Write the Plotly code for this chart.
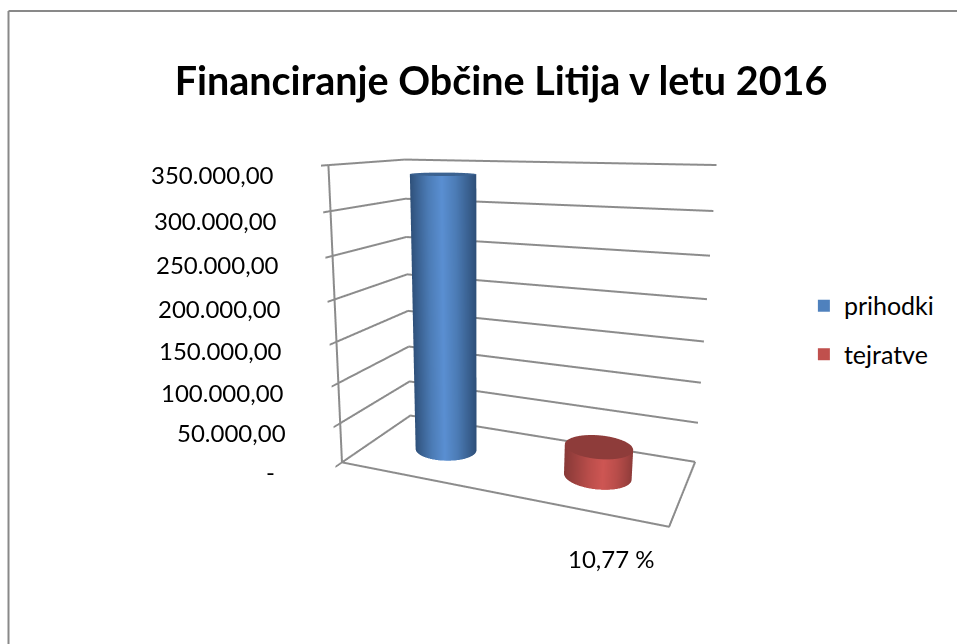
import numpy as np
import plotly.graph_objects as go

# ---------------- data ----------------
category = "10,77 %"
series_names = ["prihodki", "tejratve"]
series_values = [338000, 36400]
series_pos = [0.25, 0.75]
tick_values = [0, 50000, 100000, 150000, 200000, 250000, 300000, 350000]
tick_labels = ["-", "50.000,00", "100.000,00", "150.000,00", "200.000,00", "250.000,00", "300.000,00", "350.000,00"]
title_text = "Financiranje Občine Litija v letu 2016"

side_light = ["#5A8FD2", "#CE5653"]
side_mid = ["#4C7CB6", "#B94D4A"]
side_dark = ["#2E4F78", "#8A3A38"]
top_color = ["#3B6291", "#8E3C3A"]
legend_color = ["#4F81BD", "#C0504D"]

# ---------------- camera, fitted against the axis box of the picture ----------------
EYE = dict(x=0.78, y=-2.093, z=0.55)
CENTER = dict(x=-0.1137, y=-0.0505, z=-0.004)
UP = dict(x=0.0118, y=0.0051, z=1)
AY, AZ = 0.4416, 0.902
SCREEN_RIGHT = (0.9157, 0.4016)

# ---------------- figure ----------------
ZMAX = tick_values[-1]
RX, RY = 0.10, 0.20
fig = go.Figure()
t = np.linspace(0, 2 * np.pi, 181)
off = RX * np.cos(t) * SCREEN_RIGHT[0] + RY * AY * np.sin(t) * SCREEN_RIGHT[1]
shade = np.abs(off) / np.abs(off).max()
light = dict(ambient=1, diffuse=0, specular=0, fresnel=0, roughness=1)
for i, (name, val, cx) in enumerate(zip(series_names, series_values, series_pos)):
    X = np.vstack([cx + RX * np.cos(t)] * 2)
    Y = np.vstack([0.5 + RY * np.sin(t)] * 2)
    Z = np.vstack([np.zeros_like(t), np.full_like(t, val)])
    scale = [[0, side_light[i]], [0.4, side_mid[i]], [1, side_dark[i]]]
    fig.add_trace(go.Surface(x=X, y=Y, z=Z, surfacecolor=np.vstack([shade] * 2), cmin=0, cmax=1, colorscale=scale,
                             showscale=False, lighting=light, hoverinfo="skip", showlegend=False))
    rr = np.array([0, 1.0])
    Xc = cx + RX * np.outer(rr, np.cos(t))
    Yc = 0.5 + RY * np.outer(rr, np.sin(t))
    fig.add_trace(go.Surface(x=Xc, y=Yc, z=np.full_like(Xc, val), surfacecolor=np.zeros_like(Xc), cmin=0, cmax=1,
                             colorscale=[[0, top_color[i]], [1, top_color[i]]], showscale=False, lighting=light,
                             hoverinfo="skip", showlegend=False))
    fig.add_trace(go.Scatter3d(x=[None], y=[None], z=[None], mode="markers", name=name, legendgroup=name,
                               marker=dict(symbol="square", size=25, color=legend_color[i])))

line = dict(color="#8C8C8C", width=4)
fig.add_trace(go.Scatter3d(x=[0, 1, 1], y=[0, 0, 1], z=[0, 0, 0], mode="lines", line=line, hoverinfo="skip", showlegend=False))
fig.add_trace(go.Scatter3d(x=[0, 0], y=[0, 0], z=[0, ZMAX], mode="lines", line=line, hoverinfo="skip", showlegend=False))
for v in tick_values:
    fig.add_trace(go.Scatter3d(x=[0, 0, 1], y=[0, 1, 1], z=[v, v, v], mode="lines", line=line, hoverinfo="skip", showlegend=False))

tick_font = dict(family="Lato", size=24, color="#000000")
annotations = [dict(x=0, y=0, z=v, text=s, showarrow=False, xanchor="right", xshift=-52 - (13 if s == "-" else 0), yshift=-9,
                    font=tick_font) for v, s in zip(tick_values, tick_labels)]
annotations.append(dict(x=0.5, y=0, z=0, text=category, showarrow=False, xshift=120, yshift=-67, font=tick_font))
hidden = dict(range=[0, 1], showgrid=False, showticklabels=False, showbackground=False, zeroline=False, showline=False,
              ticks="", title=dict(text=""), showspikes=False)
fig.update_layout(
    width=957, height=644, margin=dict(l=0, r=0, t=0, b=0), paper_bgcolor="#FFFFFF",
    font=dict(family="Lato", color="#000000"),
    title=dict(text=title_text, x=501 / 957, xanchor="center", y=1 - 81 / 644, yanchor="middle",
               font=dict(family="Lato", size=39.5, weight="bold", color="#000000")),
    legend=dict(x=0.84, y=0.4876, xanchor="left", yanchor="middle", traceorder="grouped", tracegroupgap=13,
                font=dict(family="Lato", size=25, color="#000000"), itemsizing="constant"),
    shapes=[
        dict(type="line", xref="paper", yref="paper", x0=8.5 / 957, x1=1, y0=1 - 11 / 644, y1=1 - 11 / 644, line=dict(color="#898989", width=2)),
        dict(type="line", xref="paper", yref="paper", x0=8.5 / 957, x1=8.5 / 957, y0=0, y1=1 - 11 / 644, line=dict(color="#898989", width=2)),
    ],
    scene=dict(
        domain=dict(x=[0, 1], y=[0, 1]),
        aspectmode="manual", aspectratio=dict(x=1, y=AY, z=AZ),
        camera=dict(eye=EYE, center=CENTER, up=UP),
        xaxis=hidden, yaxis=hidden,
        zaxis=dict(range=[0, ZMAX], tickvals=tick_values, showticklabels=False, showgrid=False,
                   showbackground=False, zeroline=False, showline=False, ticks="outside",
                   tickcolor="#8C8C8C", ticklen=10, tickwidth=4, title=dict(text=""), showspikes=False),
        annotations=annotations,
    ),
)
fig.write_html("out.html", post_script="document.body.style.margin='0';", config=dict(displayModeBar=False))
